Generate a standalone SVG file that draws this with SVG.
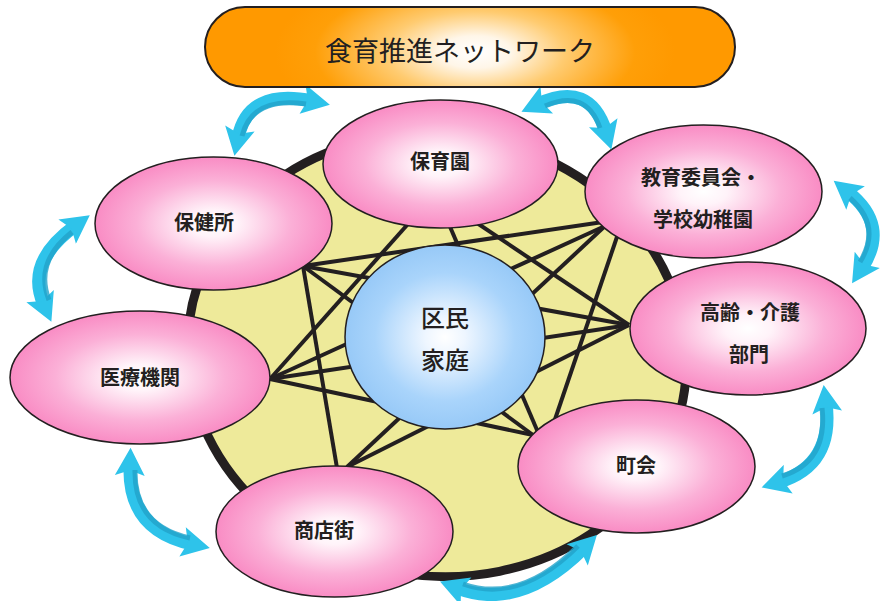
<svg xmlns="http://www.w3.org/2000/svg" width="884" height="601" viewBox="0 0 884 601">
<defs>
<radialGradient id="pink" cx="50%" cy="50%" r="50%">
<stop offset="0" stop-color="#ffffff"/>
<stop offset="0.2" stop-color="#fff3f9"/>
<stop offset="0.65" stop-color="#fbb0d7"/>
<stop offset="1" stop-color="#f98cc4"/>
</radialGradient>
<radialGradient id="blue" cx="50%" cy="50%" r="50%">
<stop offset="0" stop-color="#ffffff"/>
<stop offset="0.2" stop-color="#eef6ff"/>
<stop offset="0.7" stop-color="#a9d4fb"/>
<stop offset="1" stop-color="#97c9f7"/>
</radialGradient>
<radialGradient id="orange" gradientUnits="userSpaceOnUse" cx="475" cy="52" r="200" gradientTransform="translate(475 52) scale(1 0.45) translate(-475 -52)">
<stop offset="0" stop-color="#ffffff"/>
<stop offset="0.18" stop-color="#fff6e8"/>
<stop offset="0.45" stop-color="#ffcb70"/>
<stop offset="0.8" stop-color="#ff9f08"/>
<stop offset="1" stop-color="#ff9900"/>
</radialGradient>
<marker id="ah" markerUnits="userSpaceOnUse" markerWidth="30" markerHeight="30" viewBox="0 -14 26 28" refX="9" refY="0" orient="auto-start-reverse">
<path d="M0,-14 L26,0 L0,14 L5,0 Z" fill="#2ec3ea"/>
</marker>
<style>
.node{fill:url(#pink);stroke:#231f20;stroke-width:1.5}
.lbl{font-family:"Noto Sans CJK JP","Noto Sans CJK SC",sans-serif;font-size:20px;font-weight:700;fill:#231f20;text-anchor:middle}
.ln{stroke:#231f20;stroke-width:4;fill:none;stroke-linecap:butt}
.arw{fill:none;stroke:#2ec3ea;stroke-width:13;marker-start:url(#ah);marker-end:url(#ah)}
.arwd{fill:none;stroke:#22a2c9;stroke-width:5;opacity:0.8}
</style>
</defs>

<g id="ring">
<ellipse cx="437" cy="355" rx="250" ry="221" transform="rotate(8 437 355)" fill="#eeea9a" stroke="#231f20" stroke-width="9"/>
</g>

<g id="connectors">
<line class="ln" x1="303" y1="266" x2="603" y2="222"/>
<line class="ln" x1="303" y1="266" x2="629" y2="325"/>
<line class="ln" x1="303" y1="266" x2="533" y2="435"/>
<line class="ln" x1="303" y1="266" x2="337" y2="468"/>
<line class="ln" x1="270" y1="379" x2="416" y2="215"/>
<line class="ln" x1="270" y1="379" x2="605" y2="226"/>
<line class="ln" x1="270" y1="379" x2="629" y2="325"/>
<line class="ln" x1="270" y1="379" x2="533" y2="435"/>
<line class="ln" x1="347" y1="467" x2="605" y2="226"/>
<line class="ln" x1="347" y1="467" x2="629" y2="325"/>
<line class="ln" x1="445" y1="215" x2="540" y2="437"/>
<line class="ln" x1="465" y1="215" x2="629" y2="325"/>
<line class="ln" x1="620" y1="228" x2="549" y2="437"/>
</g>

<g id="center">
<ellipse cx="445" cy="337" rx="100" ry="92" fill="url(#blue)" stroke="#231f20" stroke-width="1.5"/>
<text class="lbl" x="445" y="327" style="font-size:24px;font-weight:500">区民</text>
<text class="lbl" x="445" y="369" style="font-size:24px;font-weight:500">家庭</text>
</g>

<g id="n-hoikuen">
<ellipse class="node" cx="440.5" cy="164" rx="117.5" ry="64"/>
<text class="lbl" x="440" y="169">保育園</text>
</g>
<g id="n-kyoiku">
<ellipse class="node" cx="703.5" cy="191.5" rx="118.5" ry="66.5"/>
<text class="lbl" x="701" y="185">教育委員会・</text>
<text class="lbl" x="703" y="227">学校幼稚園</text>
</g>
<g id="n-hokenjo">
<ellipse class="node" cx="213.5" cy="223.5" rx="118.5" ry="66.5"/>
<text class="lbl" x="204" y="230">保健所</text>
</g>
<g id="n-korei">
<ellipse class="node" cx="748" cy="328.5" rx="118" ry="66.5"/>
<text class="lbl" x="750" y="320">高齢・介護</text>
<text class="lbl" x="749" y="362">部門</text>
</g>
<g id="n-iryo">
<ellipse class="node" cx="140" cy="377.5" rx="130" ry="66.5"/>
<text class="lbl" x="140" y="385">医療機関</text>
</g>
<g id="n-chokai">
<ellipse class="node" cx="636.5" cy="466.5" rx="118.5" ry="66.5"/>
<text class="lbl" x="636" y="473">町会</text>
</g>
<g id="n-shotengai">
<ellipse class="node" cx="334.5" cy="531.5" rx="118.5" ry="65.5"/>
<text class="lbl" x="324" y="538">商店街</text>
</g>

<g id="arrows">
<path class="arw" d="M238,138 Q248,88 312,101"/>
<path class="arwd" d="M242,136 Q252,96 306,104"/>
<path class="arw" d="M538,104 Q590,80 606,132"/>
<path class="arwd" d="M545,106 Q586,88 600,128"/>
<path class="arw" d="M848,192 Q890,225 862,268"/>
<path class="arwd" d="M850,198 Q882,226 860,262"/>
<path class="arw" d="M75,226 Q25,262 44,305"/>
<path class="arwd" d="M72,232 Q34,262 49,300"/>
<path class="arw" d="M826,403 Q834,465 779,482"/>
<path class="arwd" d="M822,408 Q828,462 782,476"/>
<path class="arw" d="M130,466 Q128,530 192,544"/>
<path class="arwd" d="M135,470 Q134,526 190,538"/>
<path class="arw" d="M457,588 Q520,612 584,548"/>
<path class="arwd" d="M463,584 Q520,604 578,546"/>
</g>

<g id="title">
<rect x="205" y="7" width="530" height="80" rx="40" ry="40" fill="url(#orange)" stroke="#231f20" stroke-width="2"/>
<text x="460" y="61" style="font-family:'Noto Sans CJK JP',sans-serif;font-size:27px;fill:#231f20;text-anchor:middle">食育推進ネットワーク</text>
</g>
</svg>
